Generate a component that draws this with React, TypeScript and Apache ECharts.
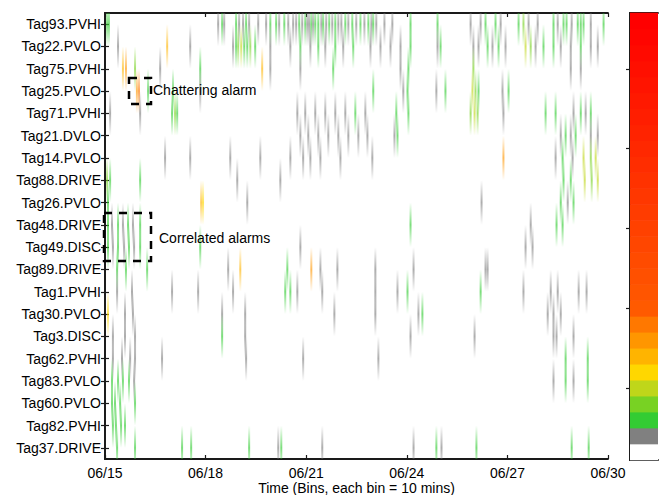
import React, { useEffect, useRef } from "react";
import * as echarts from "echarts";

// Tags (top to bottom)
const tags = [
  "Tag93.PVHI", "Tag22.PVLO", "Tag75.PVHI", "Tag25.PVLO", "Tag71.PVHI",
  "Tag21.DVLO", "Tag14.PVLO", "Tag88.DRIVE", "Tag26.PVLO", "Tag48.DRIVE",
  "Tag49.DISC", "Tag89.DRIVE", "Tag1.PVHI", "Tag30.PVLO", "Tag3.DISC",
  "Tag62.PVHI", "Tag83.PVLO", "Tag60.PVLO", "Tag82.PVHI", "Tag37.DRIVE",
];

const binsPerDay = 144; // 10-minute bins
const startDay = 15;
const totalBins = 2160; // 06/15 .. 06/30
const tickEveryBins = 432; // 3 days

// Colormap levels (1 = no alarm ... 28 = max)
const levelColors = [
  "#ffffff", "#808080", "#33cc33", "#78d223", "#bfd61a", "#ffd700", "#ffb400",
  "#ff9600", "#ff7800", "#ff5a00", "#ff5500", "#ff5000", "#ff4b00", "#ff4600",
  "#ff4100", "#ff3c00", "#ff3700", "#ff3200", "#ff2d00", "#ff2800", "#ff2300",
  "#ff1e00", "#ff1900", "#ff1400", "#ff0f00", "#ff0a00", "#ff0500", "#ff0000",
];
const colorbarLevels = [
  1, 2, 3, 4, 5, 6, 7, 8, 9, 10, 11, 12, 13, 14, 15, 16, 17, 18, 19, 20,
  21, 22, 23, 24, 25, 26, 27, 28,
];

// Alarm events per tag: [bin, level]
const tag93Events = [[9,3],[17,3],[486,2],[503,3],[512,2],[563,3],[576,2],[593,2],[606,3],[619,2],[658,2],[692,2],[710,3],[735,3],[748,2],[770,3],[787,2],[808,2],[821,2],[834,3],[847,2],[860,3],[869,2],[877,2],[886,3],[894,2],[903,3],[916,3],[929,2],[937,3],[950,2],[963,3],[976,2],[989,3],[1002,2],[1015,2],[1032,3],[1045,2],[1062,3],[1079,2],[1097,3],[1114,2],[1131,3],[1144,2],[1152,3],[1165,2],[1200,2],[1234,2],[1312,3],[1428,3],[1570,2],[1613,2],[1634,3],[1677,3],[1699,2],[1776,3],[1797,4],[1819,2],[1858,2],[1926,3],[1944,2],[1969,3],[1982,3],[2004,2],[2030,3],[2043,3],[2055,3],[2086,2],[2141,3]];
const tag22Events = [[56,2],[267,7],[366,2],[550,2],[563,3],[572,4],[585,5],[598,3],[611,3],[624,4],[645,3],[710,2],[796,2],[839,3],[882,2],[916,3],[946,2],[989,3],[1023,2],[1066,3],[1140,2],[1183,2],[1226,2],[1269,2],[1312,3],[1428,2],[1441,3],[1582,2],[1604,2],[1643,3],[1664,2],[1690,3],[1720,2],[1806,5],[1828,4],[1849,2],[1883,3],[1926,3],[1957,2],[2000,2],[2043,3],[2086,2],[2116,2]];
const tag75Events = [[77,7],[90,8],[129,4],[237,2],[409,3],[675,7],[710,2],[839,2],[980,3],[1269,2],[1303,3],[1582,4],[2000,2],[2043,2]];
const tag25Events = [[137,8],[146,9],[185,3],[292,3],[409,2],[1152,3],[1281,2],[1299,3],[1423,2],[1462,3],[1578,5],[1591,4],[1604,3],[1707,2],[1733,3]];
const tag71Events = [[22,2],[151,2],[288,3],[301,4],[310,3],[826,2],[860,2],[903,2],[946,2],[989,2],[1032,2],[1075,3],[1118,2],[1251,3],[1303,3],[1570,4],[1587,5],[1600,4],[1711,2],[1892,3],[1935,3],[2012,2],[2043,3],[2064,2],[2086,3]];
const tag21Events = [[839,2],[873,2],[916,2],[959,2],[1002,2],[1045,2],[1088,2],[1127,2],[1243,2],[1256,3],[1957,2],[1978,3],[2000,2],[2021,3],[2086,2],[2116,2]];
const tag14Events = [[258,2],[366,2],[538,2],[667,2],[796,2],[851,2],[882,2],[925,2],[1011,2],[1148,2],[1711,8],[1935,2],[1965,3],[2008,2],[2055,5],[2086,4],[2107,5]];
const tag88Events = [[9,4],[22,3],[151,3],[568,2],[753,2],[1969,3],[2000,3],[2060,5],[2090,4],[2116,5]];
const tag26Events = [[13,3],[413,7],[421,6],[611,2],[1617,2],[1957,3],[1987,2],[2012,3]];
const tag48Events = [[13,3],[30,2],[56,3],[77,2],[99,3],[120,2],[151,3],[1312,3],[1828,2],[1939,3],[1965,3]];
const tag49Events = [[13,3],[34,2],[56,3],[82,2],[103,3],[125,2],[151,3],[409,3],[839,2],[1806,2],[1836,2]];
const tag89Events = [[52,3],[90,3],[181,3],[529,2],[581,7],[783,3],[886,8],[925,2],[998,2],[1161,2],[1325,2],[1634,2],[1643,2]];
const tag1Events = [[52,2],[116,2],[288,2],[400,2],[550,2],[774,3],[796,3],[826,2],[933,2],[1161,2],[1256,2],[1299,3],[1613,3],[1797,2],[1914,2],[1944,2],[2034,2],[2068,2]];
const tag30Events = [[13,6],[86,2],[120,2],[503,2],[602,2],[985,2],[1161,2],[1346,2],[1363,3],[1901,2],[1926,2],[1957,2]];
const tag3Events = [[34,2],[86,2],[129,2],[503,3],[602,2],[1312,2],[1587,2],[1926,2],[1939,2],[2012,2]];
const tag62Events = [[34,2],[73,2],[108,2],[129,2],[245,2],[606,2],[851,2],[1174,2],[1978,3],[2073,3]];
const tag83Events = [[30,3],[56,3],[77,3],[103,3],[125,2],[1926,2],[1978,3],[2012,2],[2073,3]];
const tag60Events = [[30,3],[43,3],[65,3],[129,3]];
const tag82Events = [[34,3],[47,3],[69,3],[86,3]];
const tag37Events = [[52,3],[129,3],[331,3],[370,3],[619,3],[744,2],[757,3],[933,2],[1325,2],[1423,3],[1445,2],[1595,3],[2004,3],[2077,3]];

const eventsByTag = [
  tag93Events, tag22Events, tag75Events, tag25Events, tag71Events, tag21Events,
  tag14Events, tag88Events, tag26Events, tag48Events, tag49Events, tag89Events,
  tag1Events, tag30Events, tag3Events, tag62Events, tag83Events, tag60Events,
  tag82Events, tag37Events,
];

const FONT = "'Liberation Sans', Arial, Helvetica, sans-serif";

function rgba(hex: string, a: number) {
  const r = parseInt(hex.slice(1, 3), 16);
  const g = parseInt(hex.slice(3, 5), 16);
  const b = parseInt(hex.slice(5, 7), 16);
  return `rgba(${r},${g},${b},${a})`;
}

export default function App() {
  const ref = useRef<HTMLDivElement>(null);
  useEffect(() => {
    document.body.style.margin = "0";
    if (!ref.current) return;
    const chart = echarts.init(ref.current, undefined, { renderer: "svg" });

    const heatData: number[][] = [];
    eventsByTag.forEach((evs, row) => {
      evs.forEach(([bin, level]) => heatData.push([bin, row, level]));
    });
    const cbData = colorbarLevels.map((l, i) => [0, i, l]);

    const axisLineStyle = { color: "#1a1a1a", width: 1.8 };
    const tickStyle = { color: "#1a1a1a", width: 1.2 };

    const option: any = {
      animation: false,
      backgroundColor: "#ffffff",
      textStyle: { fontFamily: FONT },
      grid: [
        { left: 105, right: 54, top: 13, bottom: 36, outerBoundsMode: "none", containLabel: false },
        { left: 630, width: 28, top: 13, height: 447, outerBoundsMode: "none", containLabel: false },
      ],
      xAxis: [
        {
          gridIndex: 0, type: "value", min: 0, max: totalBins, interval: tickEveryBins,
          position: "bottom",
          axisLine: { show: true, lineStyle: axisLineStyle },
          axisTick: { show: true, inside: true, length: 4, lineStyle: tickStyle },
          axisLabel: {
            color: "#000", fontSize: 14, fontFamily: FONT, margin: 7,
            formatter: (v: number) => `06/${startDay + v / binsPerDay}`,
          },
          splitLine: { show: false },
          name: "Time (Bins, each bin = 10 mins)",
          nameLocation: "middle", nameGap: 22, nameMoveOverlap: false,
          nameTextStyle: { color: "#000", fontSize: 14, fontFamily: FONT },
        },
        {
          gridIndex: 0, type: "value", min: 0, max: totalBins, interval: tickEveryBins,
          position: "top",
          axisLine: { show: true, lineStyle: axisLineStyle },
          axisTick: { show: true, inside: true, length: 4, lineStyle: tickStyle },
          axisLabel: { show: false },
          splitLine: { show: false },
        },
        {
          gridIndex: 1, type: "value", min: 0, max: 1, position: "bottom",
          axisLine: { show: true, lineStyle: axisLineStyle },
          axisTick: { show: false }, axisLabel: { show: false }, splitLine: { show: false },
        },
        {
          gridIndex: 1, type: "value", min: 0, max: 1, position: "top",
          axisLine: { show: true, lineStyle: axisLineStyle },
          axisTick: { show: false }, axisLabel: { show: false }, splitLine: { show: false },
        },
      ],
      yAxis: [
        {
          gridIndex: 0, type: "category", data: tags, inverse: true, position: "left",
          axisLine: { show: true, lineStyle: axisLineStyle },
          axisTick: { show: true, inside: true, length: 4, alignWithLabel: true, interval: 0, lineStyle: tickStyle },
          axisLabel: { color: "#000", fontSize: 14, fontFamily: FONT, margin: 4, interval: 0 },
          splitLine: { show: false },
        },
        {
          gridIndex: 0, type: "category", data: tags, inverse: true, position: "right",
          axisLine: { show: true, lineStyle: axisLineStyle },
          axisTick: { show: true, inside: true, length: 4, alignWithLabel: true, interval: 0, lineStyle: tickStyle },
          axisLabel: { show: false },
          splitLine: { show: false },
        },
        {
          gridIndex: 1, type: "category", data: colorbarLevels.map(String), position: "left",
          axisLine: { show: true, lineStyle: axisLineStyle },
          axisTick: {
            show: true, inside: true, length: 4, alignWithLabel: true,
            interval: (i: number) => (i + 1) % 5 === 0, lineStyle: tickStyle,
          },
          axisLabel: { show: false },
          splitLine: { show: false },
        },
        {
          gridIndex: 1, type: "category", data: colorbarLevels.map(String), position: "right",
          axisLine: { show: true, lineStyle: axisLineStyle },
          axisTick: {
            show: true, inside: true, length: 4, alignWithLabel: true,
            interval: (i: number) => (i + 1) % 5 === 0, lineStyle: tickStyle,
          },
          axisLabel: { show: false },
          splitLine: { show: false },
        },
      ],
      series: [
        {
          type: "custom",
          xAxisIndex: 0,
          yAxisIndex: 0,
          clip: true,
          z: 1,
          data: heatData,
          encode: { x: 0, y: 1 },
          renderItem: (params: any, api: any) => {
            const bin = api.value(0);
            const row = api.value(1);
            const level = api.value(2);
            const c = api.coord([bin, row]);
            const band = api.size([0, 1])[1];
            const color = levelColors[level - 1];
            return {
              type: "rect",
              shape: { x: c[0] - 1, y: c[1] - band, width: 2, height: band * 2 },
              style: {
                fill: new echarts.graphic.LinearGradient(0, 0, 0, 1, [
                  { offset: 0, color: rgba(color, 0) },
                  { offset: 0.5, color: rgba(color, 0.65) },
                  { offset: 1, color: rgba(color, 0) },
                ]),
              },
            };
          },
        },
        {
          type: "custom",
          xAxisIndex: 2,
          yAxisIndex: 2,
          z: 1,
          data: cbData,
          encode: { x: 0, y: 1 },
          renderItem: (params: any, api: any) => {
            const idx = api.value(1);
            const level = api.value(2);
            const c = api.coord([0, idx]);
            const band = api.size([0, 1])[1];
            const cs = params.coordSys;
            return {
              type: "rect",
              shape: { x: cs.x, y: c[1] - band / 2 - 0.3, width: cs.width, height: band + 0.6 },
              style: { fill: levelColors[level - 1] },
            };
          },
        },
      ],
      graphic: [
        {
          type: "rect", z: 100,
          shape: { x: 129, y: 78, width: 22, height: 26 },
          style: { fill: "none", stroke: "#000", lineWidth: 2.5, lineDash: [8, 7] },
        },
        {
          type: "text", z: 100, x: 153, y: 90,
          style: { text: "Chattering alarm", fill: "#000", font: `14px ${FONT}`, verticalAlign: "middle" },
        },
        {
          type: "rect", z: 100,
          shape: { x: 104, y: 213, width: 47, height: 48 },
          style: { fill: "none", stroke: "#000", lineWidth: 2.5, lineDash: [8, 7] },
        },
        {
          type: "text", z: 100, x: 159, y: 238,
          style: { text: "Correlated alarms", fill: "#000", font: `14px ${FONT}`, verticalAlign: "middle" },
        },
      ],
    };
    chart.setOption(option);
    return () => chart.dispose();
  }, []);
  return <div ref={ref} style={{ width: 662, height: 495 }} />;
}
